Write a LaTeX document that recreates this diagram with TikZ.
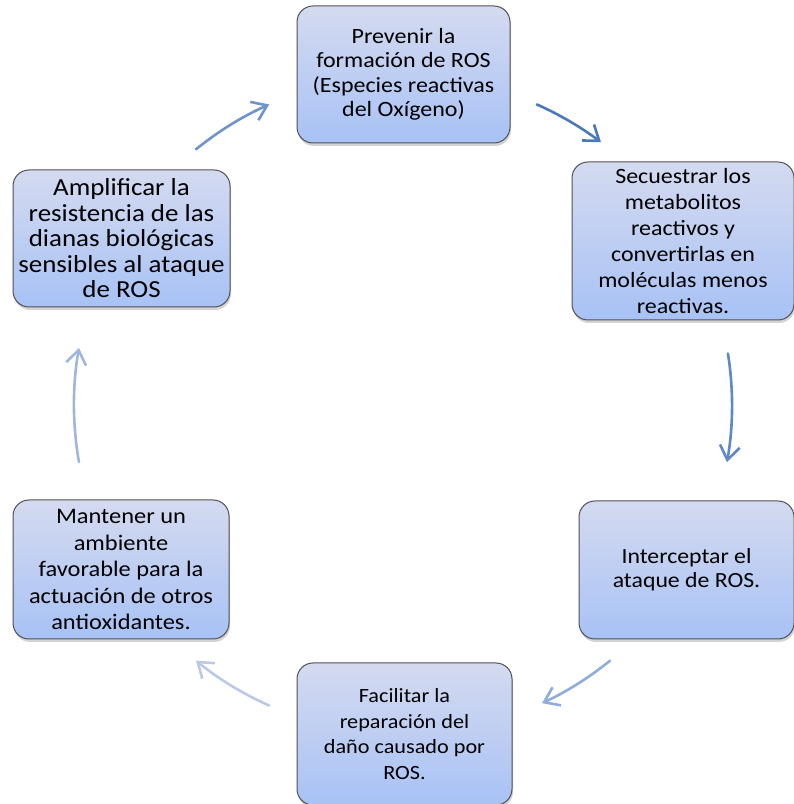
\documentclass[tikz,border=0pt]{standalone}
\usepackage{fontspec}
\setmainfont{Carlito}[FakeStretch=1.1]
\usepackage{tikz}
\usetikzlibrary{arrows.meta,shadows}

\definecolor{boxtop}{RGB}{212,218,240}
\definecolor{boxbot}{RGB}{168,194,245}
\definecolor{boxline}{RGB}{80,80,84}
\definecolor{arrA}{RGB}{74,120,184}
\definecolor{arrB}{RGB}{95,137,198}
\definecolor{arrC}{RGB}{142,173,221}
\definecolor{arrD}{RGB}{186,201,230}
\definecolor{arrE}{RGB}{159,182,221}
\definecolor{arrF}{RGB}{111,147,202}

\begin{document}
\begin{tikzpicture}[x=1pt, y=1pt,
        block/.style={draw=boxline, line width=1pt, rectangle, rounded corners=16pt,
            top color=boxtop, bottom color=boxbot, align=center, inner sep=0pt,
            drop shadow={opacity=0.35, shadow xshift=1pt, shadow yshift=-3pt}},
        txt/.style 2 args={font=\fontsize{#1}{#2}\selectfont},
        cycarrow/.style={line width=2.6pt, line cap=round},
        >={Straight Barb[length=14pt, width=20pt, line width=2.6pt]}
    ]
        \useasboundingbox (0,0) rectangle (794,804);

        \node [block, txt={21.8}{24.5}, minimum width=213pt, minimum height=137pt] (prev) at (403.5,729.5)
            {Prevenir la\\formación de ROS\\(Especies reactivas\\del Oxígeno)};
        \node [block, txt={21.8}{26}, minimum width=222pt, minimum height=158pt] (secu) at (683,563)
            {Secuestrar los\\metabolitos\\reactivos y\\convertirlas en\\moléculas menos\\reactivas.};
        \node [block, txt={21.6}{24}, minimum width=215pt, minimum height=138pt] (inter) at (686.5,234)
            {Interceptar el\\ataque de ROS.};
        \node [block, txt={20.2}{25.6}, minimum width=215pt, minimum height=142pt] (faci) at (404.5,70)
            {Facilitar la\\reparación del\\daño causado por\\ROS.};
        \node [block, txt={22.2}{26.5}, minimum width=216pt, minimum height=139pt] (mant) at (121,234.5)
            {Mantener un\\ambiente\\favorable para la\\actuación de otros\\antioxidantes.};
        \node [block, txt={24.5}{25.5}, minimum width=217pt, minimum height=137pt] (ampl) at (121.5,565.5)
            {Amplificar la\\resistencia de las\\dianas biológicas\\sensibles al ataque\\de ROS};

        % cycle arrows on one circle round the hub
        \coordinate (hub) at (403,399);
        \foreach \s/\e/\c/\n in {66/53/arrA/1, 9/-10/arrB/2, -51/-65/arrC/3,
                246/231/arrD/4, 190/170/arrE/5, 129/114/arrF/6} {
            \coordinate (s\n) at ([shift={(\s:329)}]hub);
            \draw [->, cycarrow, \c] (s\n) arc [start angle=\s, end angle=\e, radius=329];
        }

    \end{tikzpicture}
\end{document}
